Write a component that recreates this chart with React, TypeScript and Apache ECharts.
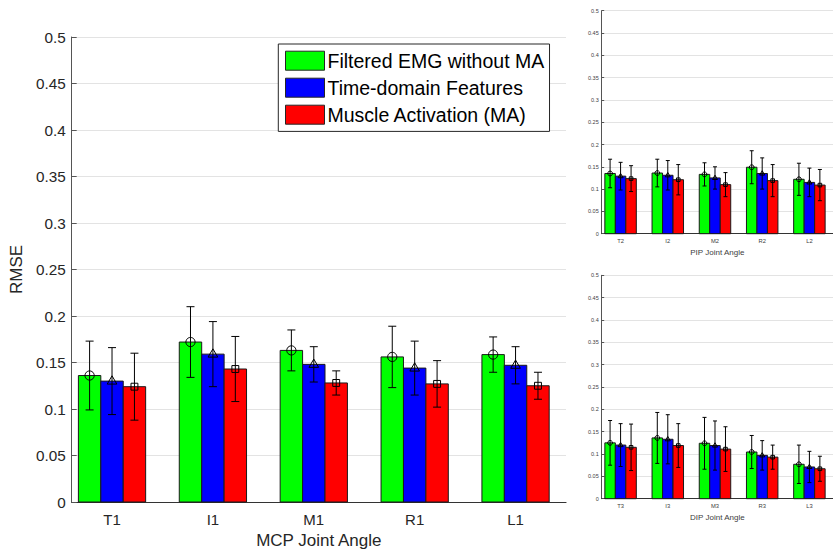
import React, { useEffect, useRef } from "react";
import * as echarts from "echarts";

// Method names (legend order) and bar fill colours
const methods = ["Filtered EMG without MA", "Time-domain Features", "Muscle Activation (MA)"];
const methodColors = ["#00ff00", "#0000ff", "#ff0000"];

// Joint labels
const mcpCats = ["T1", "I1", "M1", "R1", "L1"];
const pipCats = ["T2", "I2", "M2", "R2", "L2"];
const dipCats = ["T3", "I3", "M3", "R3", "L3"];

// MCP joint angle: mean RMSE and standard deviation per method
const mcpFiltered = [0.136, 0.172, 0.163, 0.156, 0.1585];
const mcpTimeDomain = [0.13, 0.159, 0.148, 0.144, 0.147];
const mcpActivation = [0.124, 0.143, 0.128, 0.127, 0.125];
const mcpFilteredSd = [0.037, 0.038, 0.022, 0.033, 0.019];
const mcpTimeDomainSd = [0.036, 0.035, 0.019, 0.029, 0.02];
const mcpActivationSd = [0.036, 0.035, 0.013, 0.025, 0.0145];

// PIP joint angle
const pipFiltered = [0.135, 0.136, 0.133, 0.149, 0.122];
const pipTimeDomain = [0.129, 0.131, 0.125, 0.135, 0.115];
const pipActivation = [0.1235, 0.121, 0.11, 0.119, 0.109];
const pipFilteredSd = [0.032, 0.031, 0.026, 0.037, 0.036];
const pipTimeDomainSd = [0.031, 0.033, 0.025, 0.035, 0.032];
const pipActivationSd = [0.029, 0.034, 0.027, 0.036, 0.035];

// DIP joint angle
const dipFiltered = [0.125, 0.136, 0.124, 0.1045, 0.077];
const dipTimeDomain = [0.12, 0.133, 0.119, 0.097, 0.071];
const dipActivation = [0.115, 0.119, 0.111, 0.093, 0.067];
const dipFilteredSd = [0.05, 0.057, 0.058, 0.037, 0.043];
const dipTimeDomainSd = [0.048, 0.055, 0.055, 0.033, 0.035];
const dipActivationSd = [0.052, 0.049, 0.05, 0.027, 0.028];

const FONT = "'Liberation Sans', Arial, Helvetica, sans-serif";
const BAR_W = 2 / 9; // width of one bar in category units (3 bars per group)

type Panel = {
  cats: string[];
  means: number[][];
  sds: number[][];
  title: string;
};

const panels: Panel[] = [
  { cats: mcpCats, means: [mcpFiltered, mcpTimeDomain, mcpActivation], sds: [mcpFilteredSd, mcpTimeDomainSd, mcpActivationSd], title: "MCP Joint Angle" },
  { cats: pipCats, means: [pipFiltered, pipTimeDomain, pipActivation], sds: [pipFilteredSd, pipTimeDomainSd, pipActivationSd], title: "PIP Joint Angle" },
  { cats: dipCats, means: [dipFiltered, dipTimeDomain, dipActivation], sds: [dipFilteredSd, dipTimeDomainSd, dipActivationSd], title: "DIP Joint Angle" },
];

function makeRenderItem(m: number, cap: number, mk: number, lw: number) {
  return (_params: any, api: any) => {
    const x = api.value(0) as number;
    const v = api.value(1) as number;
    const e = api.value(2) as number;
    const cx = x + (m - 1) * BAR_W;
    const tl = api.coord([cx - BAR_W / 2, v]);
    const br = api.coord([cx + BAR_W / 2, 0]);
    const top = api.coord([cx, v + e]);
    const bot = api.coord([cx, v - e]);
    const c = api.coord([cx, v]);
    const stroke = { stroke: "#000", lineWidth: lw, fill: "none" };
    let marker: any;
    if (m === 0) {
      marker = { type: "circle", shape: { cx: c[0], cy: c[1], r: mk }, style: stroke };
    } else if (m === 1) {
      marker = {
        type: "polygon",
        shape: {
          points: [
            [c[0], c[1] - mk * 1.15],
            [c[0] - mk * 1.05, c[1] + mk * 0.65],
            [c[0] + mk * 1.05, c[1] + mk * 0.65],
          ],
        },
        style: stroke,
      };
    } else {
      const s = mk * 0.75;
      marker = { type: "rect", shape: { x: c[0] - s, y: c[1] - s, width: 2 * s, height: 2 * s }, style: stroke };
    }
    return {
      type: "group",
      children: [
        {
          type: "rect",
          shape: { x: tl[0], y: tl[1], width: br[0] - tl[0], height: br[1] - tl[1] },
          style: { fill: methodColors[m], stroke: "#1a1a1a", lineWidth: 1 },
        },
        { type: "line", shape: { x1: top[0], y1: top[1], x2: bot[0], y2: bot[1] }, style: { stroke: "#000", lineWidth: lw } },
        { type: "line", shape: { x1: top[0] - cap, y1: top[1], x2: top[0] + cap, y2: top[1] }, style: { stroke: "#000", lineWidth: lw } },
        { type: "line", shape: { x1: bot[0] - cap, y1: bot[1], x2: bot[0] + cap, y2: bot[1] }, style: { stroke: "#000", lineWidth: lw } },
        marker,
      ],
    };
  };
}

export default function App() {
  const ref = useRef<HTMLDivElement>(null);

  useEffect(() => {
    if (!ref.current) return;
    const chart = echarts.init(ref.current, undefined, { renderer: "svg" });

    const grids = [
      { left: 66, top: 37, width: 500, height: 467 },
      { left: 601.7, top: 10.7, width: 238.9, height: 223 },
      { left: 601.7, top: 275.3, width: 238.9, height: 223.4 },
    ];
    const big = [true, false, false];

    const yFmt = (v: number) => String(+v.toFixed(2));

    const xAxes = panels.map((p, i) => ({
      type: "value",
      gridIndex: i,
      min: 0.6,
      max: 5.5,
      name: p.title,
      nameLocation: "middle",
      nameGap: big[i] ? 30 : 14.5,
      nameTextStyle: { fontFamily: FONT, fontSize: big[i] ? 17 : 8, color: big[i] ? "#262626" : "#404040" },
      splitLine: { show: false },
      axisLine: { show: true, onZero: false, lineStyle: { color: "#333", width: big[i] ? 1.2 : 1 } },
      axisTick: { show: false },
      axisLabel: {
        customValues: [1, 2, 3, 4, 5],
        formatter: (v: number) => p.cats[Math.round(v) - 1] ?? "",
        fontFamily: FONT,
        fontSize: big[i] ? 15 : 5.8,
        color: big[i] ? "#262626" : "#404040",
        margin: big[i] ? 10 : 4.5,
      },
    }));

    const yAxes = panels.map((_p, i) => ({
      type: "value",
      gridIndex: i,
      min: 0,
      max: 0.5,
      interval: 0.05,
      name: i === 0 ? "RMSE" : "",
      nameLocation: "middle",
      nameGap: 42,
      nameTextStyle: { fontFamily: FONT, fontSize: 17, color: "#262626" },
      axisLine: { show: true, lineStyle: { color: "#555", width: 1 } },
      axisTick: { show: true, inside: true, length: big[i] ? 5 : 2.5, lineStyle: { color: "#555" } },
      splitLine: { show: true, lineStyle: { color: "#e3e3e3", width: 1 } },
      axisLabel: {
        formatter: yFmt,
        fontFamily: FONT,
        fontSize: big[i] ? 15.3 : 5.5,
        color: big[i] ? "#262626" : "#404040",
        margin: big[i] ? 6 : 3,
      },
    }));

    const series: any[] = [];
    panels.forEach((p, i) => {
      for (let m = 0; m < 3; m++) {
        series.push({
          type: "custom",
          name: methods[m],
          xAxisIndex: i,
          yAxisIndex: i,
          clip: false,
          itemStyle: { color: methodColors[m], borderColor: "#262626", borderWidth: 1 },
          renderItem: makeRenderItem(m, big[i] ? 4 : 2, big[i] ? 4.6 : 2.4, 1),
          encode: { x: 0, y: 1 },
          data: p.cats.map((_c, k) => [k + 1, p.means[m][k], p.sds[m][k]]),
        });
      }
    });

    chart.setOption({
      animation: false,
      backgroundColor: "#ffffff",
      grid: grids,
      xAxis: xAxes,
      yAxis: yAxes,
      legend: {
        data: methods,
        orient: "vertical",
        left: 278.3,
        top: 44,
        padding: [6.7, 5.3, 6.7, 6.7],
        itemGap: 7,
        itemWidth: 39,
        itemHeight: 19,
        icon: "rect",
        backgroundColor: "#ffffff",
        borderColor: "#262626",
        borderWidth: 1,
        borderRadius: 0,
        itemStyle: { borderColor: "#262626", borderWidth: 1 },
        textStyle: { fontFamily: FONT, fontSize: 19.5, lineHeight: 19, color: "#000", padding: [0, 0, 0, -2] },
        selectedMode: false,
      },
      series,
    });

    return () => chart.dispose();
  }, []);

  return (
    <div
      ref={ref}
      style={{ position: "absolute", left: 0, top: 0, width: 833, height: 554, background: "#fff" }}
    />
  );
}
